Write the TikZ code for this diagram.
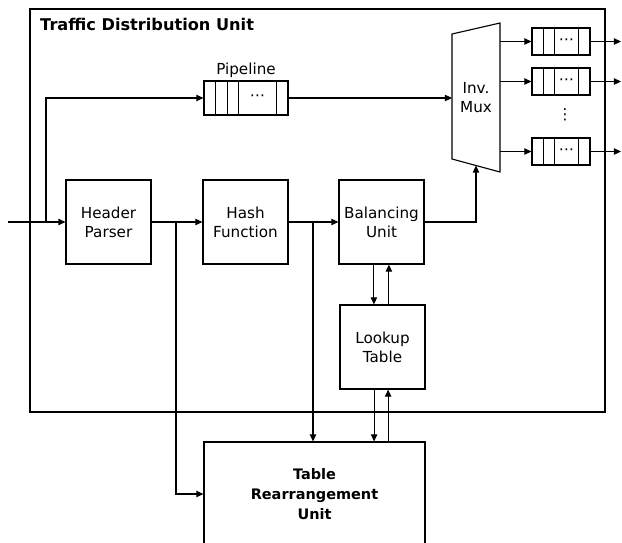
\documentclass[tikz,border=0pt]{standalone}
\usepackage{fontspec}
\setmainfont{DejaVu Sans}
\usetikzlibrary{arrows.meta, positioning, calc}

\tikzset{
  block/.style={draw, minimum width=2.125cm, minimum height=2.1cm, align=center, inner sep=0pt},
  queue/.style={draw, minimum width=1.45cm, minimum height=0.675cm, inner sep=0pt},
  >={Triangle[length=5pt,width=4.5pt]}
}

\begin{document}
\begin{tikzpicture}[x=0.025cm, y=-0.025cm, line width=0.8pt, font=\fontsize{10.8}{13.5}\selectfont]
  \useasboundingbox (0,0) rectangle (622,542);
  \clip (0,0) rectangle (622,542);
  % traffic distribution unit
  \draw (30,9) rectangle (605,412);
  \node[anchor=west, font=\fontsize{11.5}{13}\selectfont\bfseries] (title) at (35,24) {Traffic Distribution Unit};

  % blocks
  \node[block] (hp) at (108.5,222) {Header\\Parser};
  \node[block] (hf) at (245.5,222) {Hash\\Function};
  \node[block] (bu) at (381.5,222) {Balancing\\Unit};
  \node[block] (lt) at (382.5,347) {Lookup\\Table};
  \node[draw, minimum width=5.525cm, minimum height=2.6cm, align=center,
        font=\fontsize{10.3}{14}\selectfont\bfseries] (tru) at (314.5,494) {Table\\Rearrangement\\Unit};

  % pipeline
  \node[draw, minimum width=2.1cm, minimum height=0.85cm, inner sep=0pt,
        label={[inner sep=1.5pt]above:Pipeline}] (pipe) at (246,98) {};
  \node[inner sep=0pt] (pdots) at ($(pipe.west)+(54,0)$) {⋯};
  \foreach \dx in {12,24,35,73}
    \draw ($(pipe.north west)+(\dx,0)$) -- ($(pipe.south west)+(\dx,0)$);

  % inverse mux
  \coordinate (mtl) at (452,34);
  \coordinate (mtr) at (500,23);
  \coordinate (mbr) at (500,172);
  \coordinate (mbl) at (452,159);
  \draw (mtl) -- (mtr) -- (mbr) -- (mbl) -- cycle;
  \node[align=center] (mux) at (476,98) {Inv.\\Mux};
  \coordinate (muxin) at (452,98);
  \coordinate (muxbot) at (476,165.5);

  % output queues
  \foreach \i/\y in {1/41.5,2/81.5,3/151.5} {
    \node[queue] (q\i) at (561,\y) {};
    \node[inner sep=0pt] (qdots\i) at ($(q\i.west)+(35,0)$) {⋯};
    \foreach \dx in {12,23,47}
      \draw ($(q\i.north west)+(\dx,0)$) -- ($(q\i.south west)+(\dx,0)$);
    \coordinate (mo\i) at (500,\y);
    \coordinate (out\i) at (621,\y);
    \draw[->] (mo\i) -- (q\i);
    \draw[->] (q\i) -- (out\i);
  }
  \node[inner sep=0pt] (vdots) at (565,115) {⋮};

  % connections
  \coordinate (in) at (8,222);
  \coordinate (split1) at (46,222);
  \coordinate (split2) at (176,222);
  \coordinate (split3) at (313,222);
  \draw[->] (in) -- (hp);
  \draw[->] (split1) |- (pipe);
  \draw[->] (pipe) -- (muxin);
  \draw[->] (hp) -- (hf);
  \draw[->] (hf) -- (bu);
  \draw[->] (bu.east) -| (muxbot);
  \draw[->] (split2) |- (tru.west);
  \draw[->] (split3) -- (split3 |- tru.north);
  \draw[->] ([xshift=-0.19cm]bu.south) -- ([xshift=-0.19cm]bu.south |- lt.north);
  \draw[->] ([xshift=0.16cm]lt.north) -- ([xshift=0.16cm]lt.north |- bu.south);
  \draw[->] ([xshift=-0.21cm]lt.south) -- ([xshift=-0.21cm]lt.south |- tru.north);
  \draw[->] ([xshift=0.14cm]lt.south |- tru.north) -- ([xshift=0.14cm]lt.south);
\end{tikzpicture}
\end{document}
